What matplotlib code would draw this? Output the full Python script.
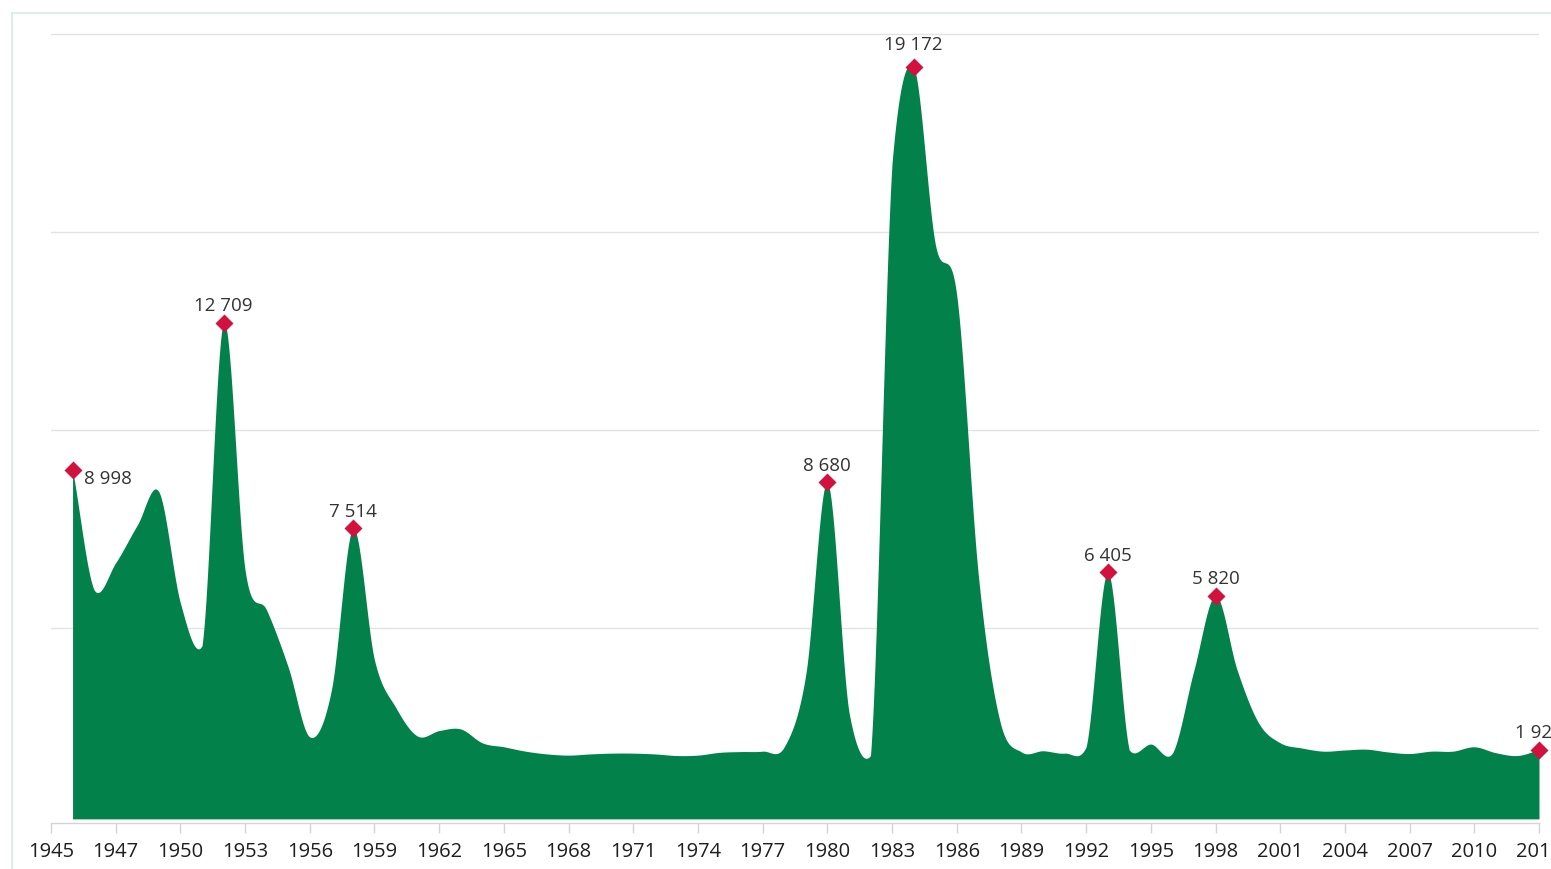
import numpy as np
import matplotlib
matplotlib.use("Agg")
import matplotlib.pyplot as plt
from matplotlib.lines import Line2D

plt.rcParams['font.family'] = ['Open Sans', 'DejaVu Sans']

years = np.arange(1945, 2014)
values = [
    8998, 5960, 6650, 7600, 8440, 5630, 4550, 12709, 6460, 5450,   # 1945-1954
    4010, 2250, 3430, 7514, 4190, 2980, 2270, 2410, 2450, 2100,    # 1955-1964
    2000, 1890, 1820, 1790, 1820, 1840, 1840, 1820, 1780, 1790,    # 1965-1974
    1860, 1880, 1890, 2000, 3830, 8680, 2880, 1780, 16740, 19172,  # 1975-1984
    14710, 13400, 6340, 2650, 1870, 1900, 1840, 2000, 6405, 1920,  # 1985-1994
    2070, 1840, 3940, 5820, 3940, 2600, 2100, 1970, 1890, 1920,    # 1995-2004
    1940, 1870, 1830, 1890, 1890, 2000, 1850, 1780, 1928,          # 2005-2013
]

# labelled peaks: year, text, offset (points), alignment
peaks = [
    (1945, "8 998", (8, -6.5), "left"),
    (1952, "12 709", (0, 12), "center"),
    (1958, "7 514", (0, 12), "center"),
    (1980, "8 680", (0, 12), "center"),
    (1984, "19 172", (0, 15.5), "center"),
    (1993, "6 405", (0, 12), "center"),
    (1998, "5 820", (0, 12), "center"),
    (2013, "1 928", (0, 12), "center"),
]

tick_pos = [1944, 1947] + list(range(1950, 2014, 3))
tick_labels = ["1945", "1947"] + [str(y) for y in range(1950, 2014, 3)]

GREEN = "#02824a"
RED = "#d3113f"
AREA_FLOOR = 180


def smooth(x, y, n=30, tol=80):
    # catmull-rom style curve, tangents damped where a segment overshoots a lot
    x = np.asarray(x, float)
    y = np.asarray(y, float)
    m = np.empty_like(y)
    m[1:-1] = (y[2:] - y[:-2]) / 2
    m[0] = y[1] - y[0]
    m[-1] = y[-1] - y[-2]
    t = np.linspace(0, 1, n, endpoint=False)
    h00 = 2 * t**3 - 3 * t**2 + 1
    h10 = t**3 - 2 * t**2 + t
    h01 = -2 * t**3 + 3 * t**2
    h11 = t**3 - t**2
    tf = np.linspace(0, 1, 60)
    xs, ys = [], []
    for i in range(len(x) - 1):
        p0, p1 = y[i], y[i + 1]
        m0, m1 = m[i], m[i + 1]
        d = p1 - p0
        for _ in range(60):
            c = ((2 * tf**3 - 3 * tf**2 + 1) * p0 + (tf**3 - 2 * tf**2 + tf) * m0
                 + (-2 * tf**3 + 3 * tf**2) * p1 + (tf**3 - tf**2) * m1)
            if c.min() >= min(p0, p1) - tol and c.max() <= max(p0, p1) + tol:
                break
            bad0 = np.sign(m0) != np.sign(d) or abs(m0) > 3 * abs(d)
            bad1 = np.sign(m1) != np.sign(d) or abs(m1) > 3 * abs(d)
            if bad0:
                m0 *= 0.85
            if bad1:
                m1 *= 0.85
            if not bad0 and not bad1:
                m0 *= 0.85
                m1 *= 0.85
        xs.append(x[i] + t * (x[i + 1] - x[i]))
        ys.append(h00 * p0 + h10 * m0 + h01 * p1 + h11 * m1)
    xs.append([x[-1]])
    ys.append([y[-1]])
    return np.concatenate(xs), np.concatenate(ys)


fig = plt.figure(figsize=(15.51, 8.69), dpi=100)
W, H = 1551, 869
ax = fig.add_axes([51 / W, 1 - 823 / H, (1539 - 51) / W, (823 - 30) / H])

sx, sy = smooth(years, values)
ax.fill_between(sx, sy, AREA_FLOOR, color=GREEN, lw=0, zorder=2)

for yr, txt, off, ha in peaks:
    v = values[yr - 1945]
    ax.plot(yr, v, marker="D", ms=9.2, color=RED, mec="none", zorder=4, clip_on=False)
    ax.annotate(txt, (yr, v), xytext=off, textcoords="offset points",
                ha=ha, va="center", fontsize=13.5, color="#333333", zorder=5,
                annotation_clip=False)

ax.set_xlim(1944, 2013)
ax.set_ylim(76, 20101)
ax.set_yticks([5000, 10000, 15000, 20000])
ax.set_yticklabels([])
ax.tick_params(axis="y", length=0)
ax.grid(axis="y", color="#e3e3e3", lw=1, zorder=0)
ax.set_xticks(tick_pos)
ax.set_xticklabels(tick_labels, fontsize=14.5, color="#1e1e1e")
ax.tick_params(axis="x", length=7.5, width=1, color="#d4d4d4", pad=6.5)

for s in ["top", "left", "right"]:
    ax.spines[s].set_visible(False)
ax.spines["bottom"].set_color("#d4d4d4")
ax.spines["bottom"].set_linewidth(1)

# outer frame lines
fig.add_artist(Line2D([12 / W, 12 / W], [0, 1 - 13 / H], color="#d6ebe6", lw=1.2))
fig.add_artist(Line2D([12 / W, 1], [1 - 13 / H, 1 - 13 / H], color="#d6ebe6", lw=1.2))

fig.savefig("out.png", dpi=100)
